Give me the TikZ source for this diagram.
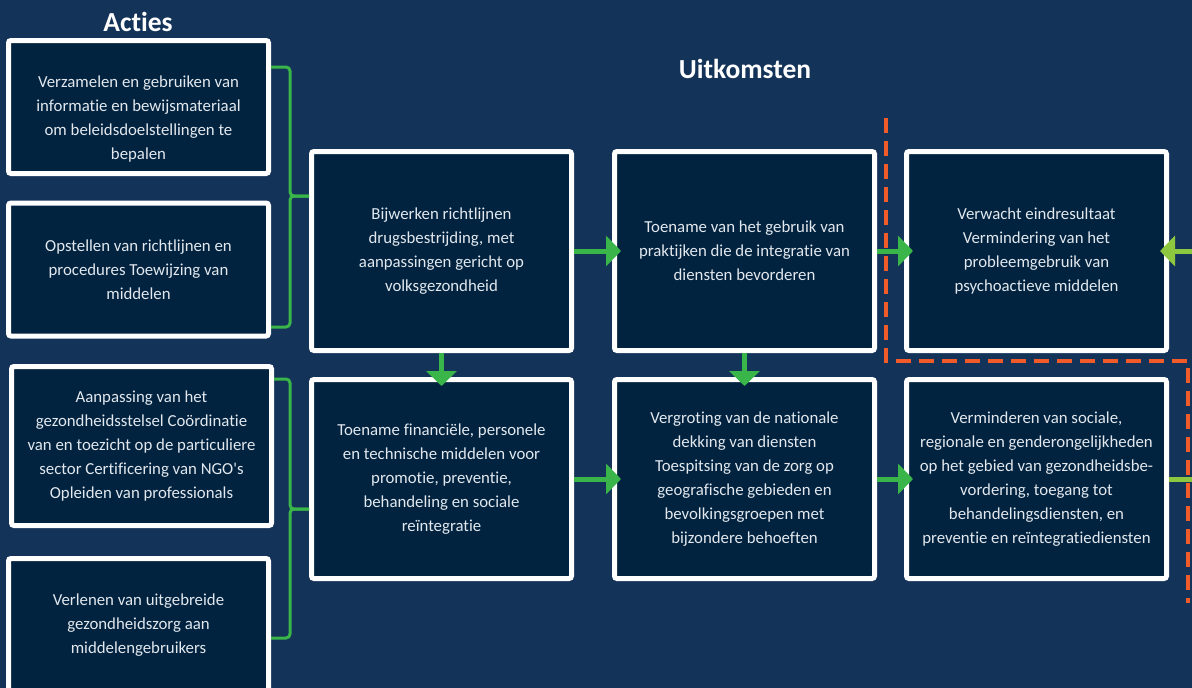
\documentclass[tikz,border=0pt]{standalone}
\usepackage{fontspec}
\setmainfont{Carlito}[Ligatures=NoCommon]
\usetikzlibrary{arrows.meta}

\definecolor{bgblue}{RGB}{20,51,89}
\definecolor{boxblue}{RGB}{2,35,63}
\definecolor{boxtext}{RGB}{226,232,238}
\definecolor{arrowgreen}{RGB}{57,181,74}
\definecolor{limegreen}{RGB}{141,198,63}
\definecolor{dashorange}{RGB}{241,90,41}

\tikzset{
    box/.style={draw=white, line width=5pt, fill=boxblue, rounded corners=2.5pt,
        minimum width=260pt, minimum height=199pt, align=center,
        inner sep=0pt, text=boxtext, font=\fontsize{16.8}{24}\selectfont},
    smallbox/.style={box, minimum height=133pt},
    heading/.style={text=white, font=\bfseries\fontsize{27.5}{30}\selectfont},
    flow/.style={-{Triangle[length=15pt,width=30pt]}, line width=5pt, draw=arrowgreen, fill=arrowgreen},
    brace/.style={line width=3pt, draw=arrowgreen, rounded corners=4pt},
    outcomeline/.style={line width=4pt, draw=dashorange, dash pattern=on 15pt off 8pt}
}

\begin{document}
\begin{tikzpicture}[x=1pt, y=-1pt]
            \path[use as bounding box, fill=bgblue] (0,0) rectangle (1192,688);
            \clip (0,0) rectangle (1192,688);

            \node[heading] (acties) at (138,22) {Acties};
            \node[heading] (uitkomsten) at (745,69) {Uitkomsten};

            % acties
            \node[smallbox] (A1) at (138.5,107) {\rule{0pt}{36pt}Verzamelen en gebruiken van\\ informatie en bewijsmateriaal\\ om beleidsdoelstellingen te\\ bepalen};
            \node[smallbox] (A2) at (138.5,269.5) {Opstellen van richtlijnen en\\ procedures Toewijzing van\\ middelen};
            \node[box, minimum height=159pt] (A3) at (141.5,446) {Aanpassing van het\\ gezondheidsstelsel Coördinatie\\ van en toezicht op de particuliere\\ sector Certificering van NGO\textquotesingle s\\ Opleiden van professionals};
            \node[smallbox] (A4) at (138.5,625) {Verlenen van uitgebreide\\ gezondheidszorg aan\\ middelengebruikers};

            % uitkomsten
            \node[box] (B1) at (441.5,251) {Bijwerken richtlijnen\\ drugsbestrijding, met\\ aanpassingen gericht op\\ volksgezondheid};
            \node[box] (B2) at (441.5,479) {Toename financiële, personele\\ en technische middelen voor\\ promotie, preventie,\\ behandeling en sociale\\ reïntegratie};
            \node[box] (C1) at (744.5,251) {Toename van het gebruik van\\ praktijken die de integratie van\\ diensten bevorderen};
            \node[box] (C2) at (744.5,479) {Vergroting van de nationale\\ dekking van diensten\\ Toespitsing van de zorg op\\ geografische gebieden en\\ bevolkingsgroepen met\\ bijzondere behoeften};
            \node[box] (D1) at (1036.5,251) {Verwacht eindresultaat\\ Vermindering van het\\ probleemgebruik van\\ psychoactieve middelen};
            \node[box] (D2) at (1036.5,479) {Verminderen van sociale,\\ regionale en genderongelijkheden\\ op het gebied van gezondheidsbe-\\ vordering, toegang tot\\ behandelingsdiensten, en\\ preventie en reïntegratiediensten};

            % braces
            \draw[brace] ([yshift=40pt]A1.east) -- (290,67) -- (290,196) -- ([yshift=55pt]B1.west);
            \draw[brace] ([yshift=55pt]B1.west) -- (290,196) -- (290,327) -- ([yshift=-57.5pt]A2.east);
            \draw[brace] ([yshift=67pt]A3.east) -- (290,379) -- (290,509) -- ([yshift=-30pt]B2.west);
            \draw[brace] ([yshift=-30pt]B2.west) -- (290,509) -- (290,638) -- ([yshift=-13pt]A4.east);

            \draw[outcomeline] (886,118) -- (886,361) -- (1188,361) -- (1188,603);

            \foreach \a/\b in {B1/C1, C1/D1, B2/C2, C2/D2} {
                \draw[flow] (\a.east) -- ([xshift=9pt]\b.west);
            }
            \foreach \a/\b in {B1/B2, C1/C2} {
                \draw[flow] (\a.south) -- ([yshift=-9pt]\b.north);
            }

            \coordinate (rightin) at (1192,251);
            \coordinate (rightout) at (1192,479);
            \draw[flow, draw=limegreen, fill=limegreen] (rightin) -- ([xshift=-9pt]D1.east);
            \draw[line width=5pt, limegreen] (D2.east) -- (rightout);
        \end{tikzpicture}
\end{document}
